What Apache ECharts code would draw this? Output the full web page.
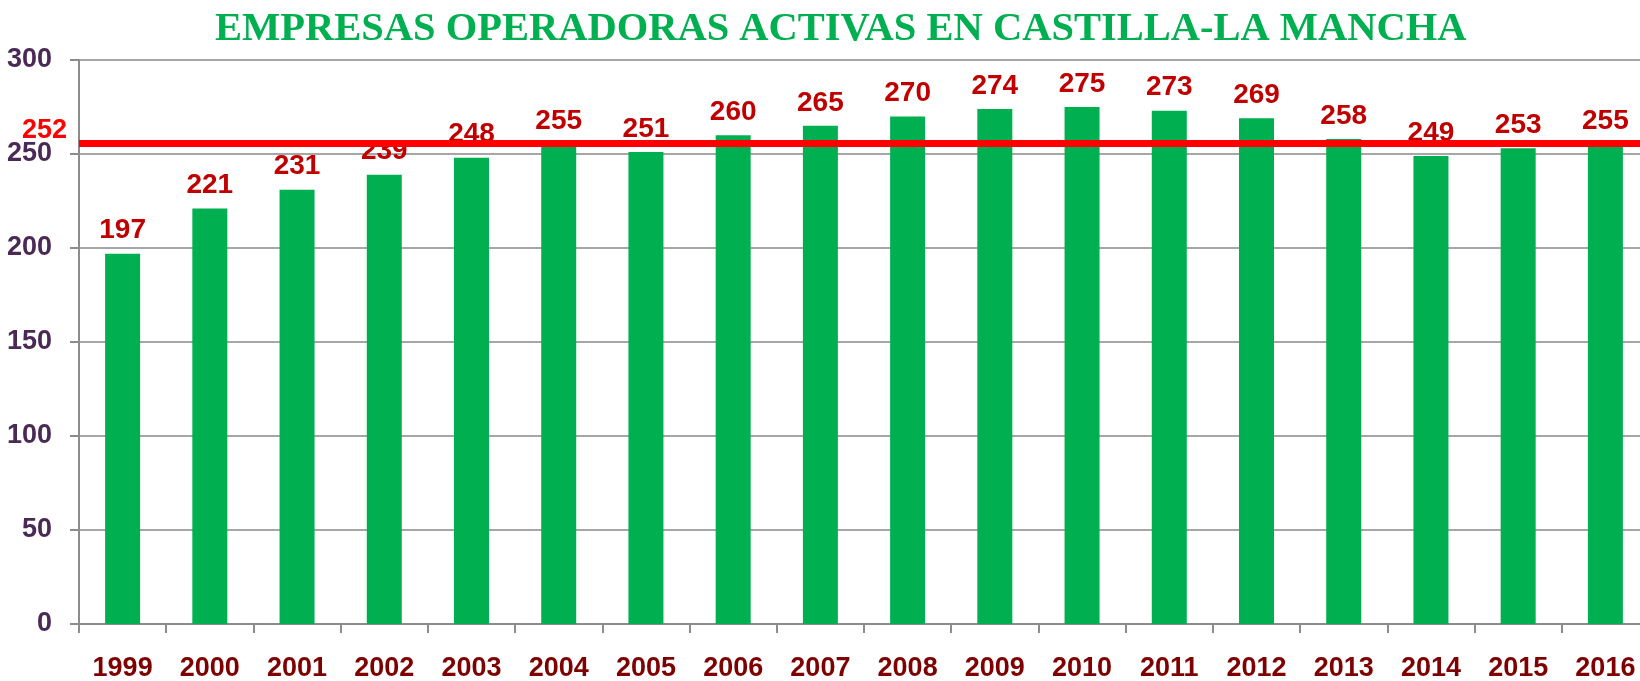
<!DOCTYPE html>
<html>
<head>
<meta charset="utf-8">
<script src="https://cdn.jsdelivr.net/npm/echarts@6/dist/echarts.min.js"></script>
<style>
html,body{margin:0;padding:0;background:#fff;}
#chart{width:1640px;height:681px;}
</style>
</head>
<body>
<div id="chart"></div>
<script>
const titleText = 'EMPRESAS OPERADORAS ACTIVAS EN CASTILLA-LA MANCHA';
const years = ['1999','2000','2001','2002','2003','2004','2005','2006','2007','2008','2009','2010','2011','2012','2013','2014','2015','2016'];
const empresas = [197,221,231,239,248,255,251,260,265,270,274,275,273,269,258,249,253,255];
const averageLabel = '252';
const averageLineLevel = [255.5];
const yTicks = [0,50,100,150,200,250,300];

const chart = echarts.init(document.getElementById('chart'), null, {renderer:'canvas'});
const sans = '"Liberation Sans", Arial, sans-serif';
chart.setOption({
  animation:false,
  backgroundColor:'#ffffff',
  title:{
    text:titleText,
    left:210,
    top:4,
    textStyle:{fontFamily:'"Liberation Serif", "Times New Roman", serif',fontWeight:'bold',fontSize:40.5,color:'#00b050'}
  },
  grid:{left:79,width:1570,top:60,bottom:57,containLabel:false,outerBoundsMode:'none'},
  xAxis:{
    type:'category',
    data:years,
    boundaryGap:true,
    axisLine:{show:true,lineStyle:{color:'#8c8c8c',width:2}},
    axisTick:{show:true,length:9,interval:0,lineStyle:{color:'#8c8c8c',width:2}},
    axisLabel:{interval:0,margin:31,fontFamily:sans,fontWeight:'bold',fontSize:27,color:'#7f0000'}
  },
  yAxis:{
    type:'value',
    min:yTicks[0],
    max:yTicks[yTicks.length-1],
    interval:50,
    axisLine:{show:true,lineStyle:{color:'#8c8c8c',width:2}},
    axisTick:{show:true,length:9,lineStyle:{color:'#8c8c8c',width:2}},
    splitLine:{show:true,lineStyle:{color:'#a6a6a6',width:2}},
    axisLabel:{margin:27,fontFamily:sans,fontWeight:'bold',fontSize:27,color:'#4a2a55'}
  },
  series:[
    {
      type:'bar',
      data:empresas,
      barWidth:35,
      z:2,
      itemStyle:{color:'#00b050'},
      label:{show:true,position:'top',distance:9,fontFamily:sans,fontWeight:'bold',fontSize:28,color:'#c00000'}
    },
    {
      type:'line',
      data:[],
      z:10,
      markLine:{
        silent:true,
        symbol:['none','none'],
        lineStyle:{color:'#ff0000',width:7,type:'solid'},
        label:{show:true,position:'start',formatter:averageLabel,distance:12,offset:[0,-13],
          fontFamily:sans,fontWeight:'bold',fontSize:27,color:'#ff0000'},
        data:[{yAxis:averageLineLevel[0]}]
      }
    }
  ]
});
</script>
</body>
</html>
